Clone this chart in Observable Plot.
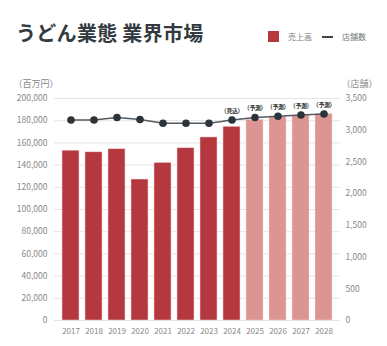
<!DOCTYPE html>
<html>
<head>
<meta charset="utf-8">
<script src="https://cdn.jsdelivr.net/npm/d3@7"></script>
<script src="https://cdn.jsdelivr.net/npm/@observablehq/plot@0.6"></script>
<style>
  html, body { margin: 0; padding: 0; background: #fff; }
  body { width: 387px; height: 346px; overflow: hidden; font-family: "Noto Sans CJK JP", "Noto Sans", sans-serif; }
  #header { position: relative; height: 60px; }
  #title { position: absolute; left: 16px; top: 19px; font-size: 20px; font-weight: bold; color: #333a40; letter-spacing: 0.3px; line-height: 28px; white-space: nowrap; }
  #legend { position: absolute; left: 268px; top: 31px; font-size: 8px; color: #777; display: flex; align-items: center; white-space: nowrap; }
  .sw { display: inline-block; width: 11px; height: 11px; background: #b5383f; margin-right: 9px; }
  .ln { display: inline-block; width: 11px; height: 2px; background: #444; margin-left: 10px; margin-right: 9px; }
  .note text { letter-spacing: -0.3px; }
</style>
</head>
<body>
<div id="header">
  <div id="title">うどん業態 業界市場</div>
  <div id="legend"><span class="sw"></span><span>売上高</span><span class="ln"></span><span>店舗数</span></div>
</div>
<div id="chart"></div>
<script>
const years = ["2017","2018","2019","2020","2021","2022","2023","2024","2025","2026","2027","2028"];
const sales = [153000, 151500, 154300, 127000, 142000, 155200, 164900, 174500, 180800, 183200, 184700, 186200];
const stores = [3160, 3160, 3200, 3170, 3110, 3110, 3110, 3160, 3200, 3220, 3240, 3255];
const notes = ["", "", "", "", "", "", "", "（見込）", "（予測）", "（予測）", "（予測）", "（予測）"];
const kinds = ["実績","実績","実績","実績","実績","実績","実績","実績","予測","予測","予測","予測"];
const leftTicks = [0, 20000, 40000, 60000, 80000, 100000, 120000, 140000, 160000, 180000, 200000];
const rightTicks = [0, 500, 1000, 1500, 2000, 2500, 3000, 3500];

const K = 200000 / 3500;
const data = years.map((y, i) => ({year: y, sales: sales[i], stores: stores[i], note: notes[i], kind: kinds[i]}));
const fmt = d3.format(",");

const chart = Plot.plot({
  width: 387,
  height: 286,
  marginTop: 38,
  marginBottom: 26,
  marginLeft: 54,
  marginRight: 47,
  style: {fontFamily: '"Noto Sans CJK JP", "Noto Sans", sans-serif', background: "#fff"},
  x: {domain: years, paddingInner: 0.24, paddingOuter: 0.1, axis: null},
  y: {domain: [0, 200000], axis: null},
  color: {domain: ["実績", "予測"], range: ["#b5383f", "#dc9590"]},
  marks: [
    Plot.gridY(leftTicks, {stroke: "#e4e4e4", strokeOpacity: 1, strokeWidth: 1}),
    Plot.axisY(leftTicks, {anchor: "left", tickSize: 0, tickPadding: 7, tickFormat: fmt, fontSize: 8.5, color: "#888", label: null}),
    Plot.axisY(rightTicks.map(v => v * K), {anchor: "right", tickSize: 0, tickPadding: 5, tickFormat: d => fmt(Math.round(d / K)), fontSize: 8.5, color: "#888", label: null}),
    Plot.axisX(years, {anchor: "bottom", tickSize: 0, tickPadding: 8, fontSize: 8, color: "#888", label: null}),
    Plot.barY(data, {x: "year", y: "sales", fill: "kind", stroke: "#f3d6d6", strokeWidth: 0.5}),
    Plot.line(data, {x: "year", y: d => d.stores * K, stroke: "#555a5e", strokeWidth: 1.5}),
    Plot.dot(data, {x: "year", y: d => d.stores * K, r: 3.8, fill: "#2c343b", stroke: "none"}),
    Plot.text(data.filter(d => d.note), {x: "year", y: d => d.stores * K, text: "note", dy: -9, fontSize: 5.9, fontWeight: "bold", fill: "#333", className: "note"}),
    Plot.text(["（百万円）"], {frameAnchor: "top-left", dx: -41, dy: -18, textAnchor: "start", fontSize: 9, fill: "#888"}),
    Plot.text(["（店舗）"], {frameAnchor: "top-right", dx: 1, dy: -18, textAnchor: "start", fontSize: 9, fill: "#888"})
  ]
});
document.getElementById("chart").appendChild(chart);
</script>
</body>
</html>
